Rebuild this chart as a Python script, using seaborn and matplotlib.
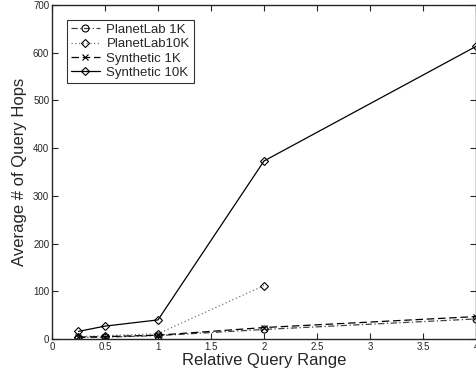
import numpy as np
import pandas as pd
import matplotlib
matplotlib.use("Agg")
import matplotlib.pyplot as plt
import seaborn as sns

# values
query_range = [0.25, 0.5, 1, 2, 4]
planetlab_1k = [3, 4, 7, 20, 42]
planetlab_10k = [5, 7, 11, 112]
synthetic_1k = [4, 5, 8, 24, 47]
synthetic_10k = [16, 27, 40, 373, 613]

sns.set_style("ticks")
plt.rcParams['font.family'] = ['Liberation Sans', 'DejaVu Sans']

fig = plt.figure(figsize=(4.77, 3.75), dpi=100)
ax = fig.add_axes([0.109, 0.096, 0.889, 0.891])

series = [
    ("PlanetLab 1K", query_range, planetlab_1k, "#444444", (0, (5, 2, 1, 2)), "o"),
    ("PlanetLab10K", query_range[:4], planetlab_10k, "#777777", (0, (1, 2)), "D"),
    ("Synthetic 1K", query_range, synthetic_1k, "black", (0, (6, 3)), "x"),
    ("Synthetic 10K", query_range, synthetic_10k, "black", "-", "D"),
]

for name, xs, ys, color, ls, mk in series:
    df = pd.DataFrame({"x": xs, "y": ys})
    sns.lineplot(data=df, x="x", y="y", ax=ax, color=color, linewidth=0.9,
                 linestyle=ls, marker=mk, markersize=5 if mk != "D" else 4.5,
                 markerfacecolor="none" if mk != "x" else color,
                 markeredgecolor="black" if mk != "x" else color,
                 markeredgewidth=0.8, label=name)

ax.set_xlim(0, 4)
ax.set_ylim(0, 700)
ax.set_xticks([0, 0.5, 1, 1.5, 2, 2.5, 3, 3.5, 4])
ax.set_xticklabels(["0", "0.5", "1", "1.5", "2", "2.5", "3", "3.5", "4"])
ax.set_yticks(np.arange(0, 701, 100))
ax.tick_params(direction="in", top=True, right=True, labelsize=7, length=4,
               width=0.8, pad=2)
for s in ax.spines.values():
    s.set_linewidth(1.0)
    s.set_visible(True)

ax.set_xlabel("Relative Query Range", fontsize=12, labelpad=1)
ax.set_ylabel("Average # of Query Hops", fontsize=12, labelpad=4)

leg = ax.legend(loc="upper left", bbox_to_anchor=(0.035, 0.955), fontsize=9.5,
                frameon=True, fancybox=False, handlelength=2.2,
                borderpad=0.3, labelspacing=0.15, handletextpad=0.5,
                borderaxespad=0)
leg.get_frame().set_edgecolor("black")
leg.get_frame().set_linewidth(0.8)

fig.savefig("out.png", dpi=100)
